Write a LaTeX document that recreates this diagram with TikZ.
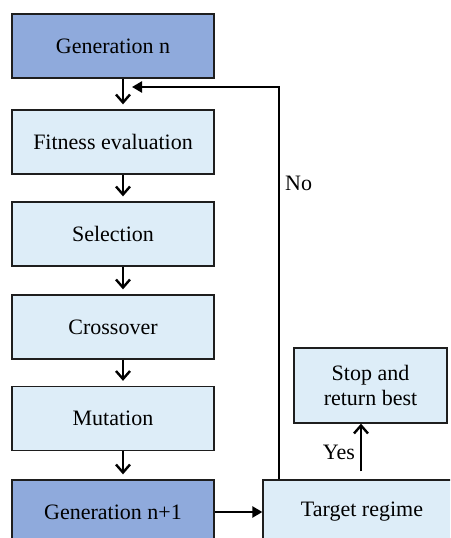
\documentclass[tikz,border=0pt]{standalone}
\usepackage{fontspec}
\setmainfont{Liberation Serif}
\newfontfamily\gaserif{Liberation Serif}
\usepackage{xcolor}
\usepackage{tikz}
\usetikzlibrary{arrows.meta,positioning}
\definecolor{gadark}{RGB}{143,170,220}
\definecolor{galight}{RGB}{221,237,248}
\definecolor{gaedge}{RGB}{30,30,30}
\tikzset{
  gabox/.style={draw=gaedge, line width=1.3pt, fill=galight, align=center,
    minimum width=202pt, minimum height=64pt, inner sep=0pt,
    font=\gaserif\fontsize{22}{25}\selectfont},
  gagen/.style={gabox, fill=gadark},
  gadown/.style={-{Straight Barb[length=8pt,width=14pt]}, line width=2.4pt, shorten >=5pt},
  gaside/.style={-{Triangle[length=10pt,width=11pt]}, line width=2.4pt},
  galabel/.style={font=\gaserif\fontsize{22}{25}\selectfont, inner sep=0pt}
}

\begin{document}
\begin{tikzpicture}[x=1pt,y=1pt]
  \useasboundingbox (0,0) rectangle (450,538);
  \clip (0,0) rectangle (450,538);
  \node[gagen] (gN) at (113,492) {Generation n};
  \node[gabox] (gFit) at (113,396) {Fitness evaluation};
  \node[gabox] (gSel) at (113,304) {Selection};
  \node[gabox] (gCross) at (113,211) {Crossover};
  \node[gabox] (gMut) at (113,119.5) {Mutation};
  \node[gagen] (gNext) at (113,26) {Generation n+1};
  \node[gabox, minimum width=198pt] (gTarget) at (362,26) {Target regime};
  \node[gabox, minimum width=153pt, minimum height=75pt] (gStop) at (370.5,152.5) {Stop and\\return best};
  \node[galabel, anchor=west] (lNo) at (285,355) {No};
  \node[galabel] (lYes) at (339,86) {Yes};
  \coordinate (cUp) at (279,451);
  \coordinate (cTip) at (132,451);
  \draw[gadown] ([xshift=10pt]gN.south) -- ([xshift=10pt]gFit.north);
  \draw[gadown] ([xshift=10pt]gFit.south) -- ([xshift=10pt]gSel.north);
  \draw[gadown] ([xshift=10pt]gSel.south) -- ([xshift=10pt]gCross.north);
  \draw[gadown] ([xshift=10pt]gCross.south) -- ([xshift=10pt]gMut.north);
  \draw[gadown] ([xshift=10pt]gMut.south) -- ([xshift=10pt]gNext.north);
  \draw[gaside] (gNext.east) -- (gTarget.west);
  \draw[gaside] (gTarget.north -| cUp) -- (cUp) -- (cTip);
  \draw[gadown, shorten >=0pt] ([yshift=8pt]gTarget.north -| gStop.south) ++(-9.5pt,0) -- ([xshift=-9.5pt]gStop.south);
\end{tikzpicture}
\end{document}
